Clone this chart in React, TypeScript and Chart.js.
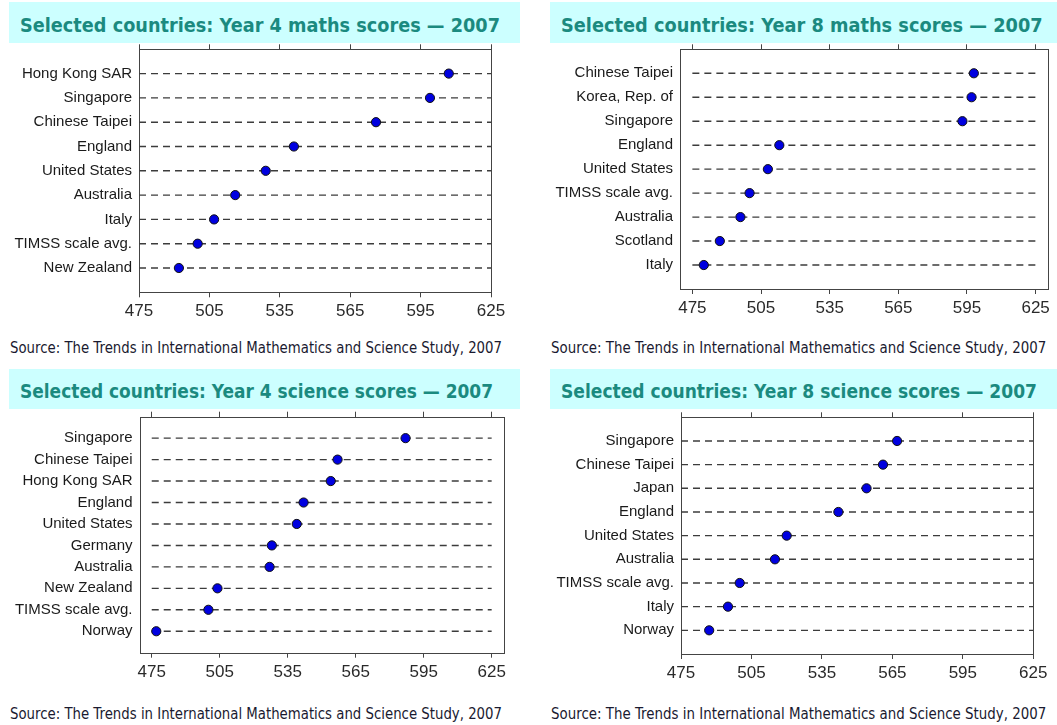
import React, { useEffect, useRef, useMemo } from "react";
import { Chart, registerables } from "chart.js";

Chart.register(...registerables);

// ---------- data ----------
const xTickValues = [475, 505, 535, 565, 595, 625];

const y4MathsCountries = ["Hong Kong SAR", "Singapore", "Chinese Taipei", "England", "United States", "Australia", "Italy", "TIMSS scale avg.", "New Zealand"];
const y4MathsScores = [607, 599, 576, 541, 529, 516, 507, 500, 492];

const y8MathsCountries = ["Chinese Taipei", "Korea, Rep. of", "Singapore", "England", "United States", "TIMSS scale avg.", "Australia", "Scotland", "Italy"];
const y8MathsScores = [598, 597, 593, 513, 508, 500, 496, 487, 480];

const y4ScienceCountries = ["Singapore", "Chinese Taipei", "Hong Kong SAR", "England", "United States", "Germany", "Australia", "New Zealand", "TIMSS scale avg.", "Norway"];
const y4ScienceScores = [587, 557, 554, 542, 539, 528, 527, 504, 500, 477];

const y8ScienceCountries = ["Singapore", "Chinese Taipei", "Japan", "England", "United States", "Australia", "TIMSS scale avg.", "Italy", "Norway"];
const y8ScienceScores = [567, 561, 554, 542, 520, 515, 500, 495, 487];

const panelTitles = [
  "Selected countries: Year 4 maths scores — 2007",
  "Selected countries: Year 8 maths scores — 2007",
  "Selected countries: Year 4 science scores — 2007",
  "Selected countries: Year 8 science scores — 2007",
];
const sourceText = "Source: The Trends in International Mathematics and Science Study, 2007";

// ---------- layout ----------
type Rect = { x: number; y: number; w: number; h: number };
type Box = { l: number; r: number; t: number; b: number };

const panels = [
  {
    countries: y4MathsCountries, scores: y4MathsScores, title: panelTitles[0],
    xMin: 475, xMax: 625,
    banner: { x: 9, y: 2, w: 511, h: 41 },
    titlePos: { x: 20, w: 480, cy: 25.3 },
    sourcePos: { x: 10, w: 492, cy: 348 },
    canvas: { x: 0, y: 40, w: 530, h: 300 },
    box: { l: 139, r: 491, t: 49.3, b: 292.3 },
  },
  {
    countries: y8MathsCountries, scores: y8MathsScores, title: panelTitles[1],
    xMin: 469.6, xMax: 630.4,
    banner: { x: 550, y: 2, w: 507, h: 41 },
    titlePos: { x: 560.7, w: 481.6, cy: 25.3 },
    sourcePos: { x: 550.7, w: 495.3, cy: 348 },
    canvas: { x: 530, y: 40, w: 527, h: 300 },
    box: { l: 680, r: 1048, t: 49.3, b: 289 },
  },
  {
    countries: y4ScienceCountries, scores: y4ScienceScores, title: panelTitles[2],
    xMin: 469.6, xMax: 630.4,
    banner: { x: 9, y: 369, w: 511, h: 40 },
    titlePos: { x: 20, w: 473, cy: 391.7 },
    sourcePos: { x: 10, w: 492, cy: 714 },
    canvas: { x: 0, y: 405, w: 530, h: 300 },
    box: { l: 139.5, r: 503.9, t: 416.7, b: 652.7 },
  },
  {
    countries: y8ScienceCountries, scores: y8ScienceScores, title: panelTitles[3],
    xMin: 475, xMax: 625,
    banner: { x: 550, y: 369, w: 507, h: 40 },
    titlePos: { x: 560.7, w: 476, cy: 391.7 },
    sourcePos: { x: 550.7, w: 495.3, cy: 714 },
    canvas: { x: 530, y: 405, w: 527, h: 300 },
    box: { l: 681, r: 1033.3, t: 417.3, b: 654 },
  },
];

let measureCtx: CanvasRenderingContext2D | null = null;
function measure(text: string, font: string): number {
  if (!measureCtx) measureCtx = document.createElement("canvas").getContext("2d");
  measureCtx!.font = font;
  return measureCtx!.measureText(text).width;
}

function FitText(props: { text: string; x: number; cy: number; w: number; size: number; weight: string; family: string; color: string }) {
  const { text, x, cy, w, size, weight, family, color } = props;
  const lh = Math.round(size * 1.25);
  const font = `${weight} ${size}px ${family}`;
  const scale = useMemo(() => {
    const nat = measure(text, font);
    return nat > 0 ? w / nat : 1;
  }, [text, font, w]);
  return (
    <div
      style={{
        position: "absolute",
        left: x,
        top: cy - lh / 2,
        height: lh,
        lineHeight: `${lh}px`,
        whiteSpace: "nowrap",
        font,
        color,
        transform: `scaleX(${scale})`,
        transformOrigin: "left center",
      }}
    >
      {text}
    </div>
  );
}

function DotChart(props: { countries: string[]; scores: number[]; xMin: number; xMax: number; canvas: Rect; box: Box }) {
  const { countries, scores, xMin, xMax, canvas, box } = props;
  const ref = useRef<HTMLCanvasElement>(null);

  useEffect(() => {
    const yAxisW = 130;
    const xAxisH = 40;
    const topAxisH = 5;
    const pad = {
      left: box.l - canvas.x - yAxisW,
      right: canvas.x + canvas.w - box.r,
      top: box.t - canvas.y - topAxisH,
      bottom: canvas.y + canvas.h - box.b - xAxisH,
    };
    const n = countries.length;

    const guides = countries.map((_c, i) => ({
      type: "line" as const,
      data: [
        { x: xTickValues[0], y: i },
        { x: xTickValues[xTickValues.length - 1], y: i },
      ],
      xAxisID: "x",
      yAxisID: "y",
      borderColor: "#3c3c3c",
      borderWidth: 1.4,
      borderDash: [7, 5],
      pointRadius: 0,
      showLine: true,
      fill: false,
      order: 2,
    }));

    const dots = {
      type: "scatter" as const,
      data: scores.map((s, i) => ({ x: s, y: i })),
      xAxisID: "x",
      yAxisID: "y",
      pointRadius: 4.6,
      pointBackgroundColor: "#0000e0",
      pointBorderColor: "#111111",
      pointBorderWidth: 1,
      order: 0,
    };

    const boxPlugin = {
      id: "plotBox",
      beforeDatasetsDraw(chart: any) {
        const { ctx, chartArea: a } = chart;
        ctx.save();
        ctx.strokeStyle = "#444444";
        ctx.lineWidth = 1;
        const l = Math.round(a.left) + 0.5;
        const t = Math.round(a.top) + 0.5;
        const r = Math.round(a.right) + 0.5;
        const b = Math.round(a.bottom) + 0.5;
        ctx.strokeRect(l, t, r - l, b - t);
        ctx.restore();
      },
    };

    const setXTicks = (scale: any) => {
      scale.ticks = xTickValues.map((v) => ({ value: v }));
    };
    const tickGrid = {
      drawOnChartArea: false,
      drawTicks: true,
      tickLength: 5,
      color: "#444444",
      lineWidth: 1,
    };

    const chart = new Chart(ref.current as HTMLCanvasElement, {
      type: "scatter",
      data: { datasets: [dots, ...guides] as any },
      options: {
        animation: false,
        responsive: false,
        maintainAspectRatio: false,
        events: [],
        layout: { padding: pad },
        plugins: { legend: { display: false }, tooltip: { enabled: false }, title: { display: false } },
        scales: {
          x: {
            type: "linear",
            position: "bottom",
            min: xMin,
            max: xMax,
            bounds: "data",
            afterBuildTicks: setXTicks,
            afterFit: (s: any) => {
              s.height = xAxisH;
              s.paddingLeft = 0;
              s.paddingRight = 0;
            },
            grid: tickGrid,
            border: { display: false },
            ticks: {
              font: { family: "'Liberation Sans', Arial, sans-serif", size: 17 },
              color: "#2a2a2a",
              padding: 4,
              maxRotation: 0,
              autoSkip: false,
            },
          },
          xTop: {
            type: "linear",
            axis: "x",
            position: "top",
            min: xMin,
            max: xMax,
            bounds: "data",
            afterBuildTicks: setXTicks,
            afterFit: (s: any) => {
              s.height = topAxisH;
              s.paddingLeft = 0;
              s.paddingRight = 0;
            },
            grid: tickGrid,
            border: { display: false },
            ticks: { display: false },
          },
          y: {
            type: "linear",
            reverse: true,
            min: -1,
            max: n,
            afterBuildTicks: (s: any) => {
              s.ticks = countries.map((_c, i) => ({ value: i }));
            },
            afterFit: (s: any) => {
              s.width = yAxisW;
              s.paddingTop = 0;
              s.paddingBottom = 0;
            },
            grid: { display: false, drawTicks: false },
            border: { display: false },
            ticks: {
              font: { family: "'Liberation Sans', Arial, sans-serif", size: 15 },
              color: "#1a1a1a",
              padding: 7,
              autoSkip: false,
              callback: (v: any) => (countries[v as number] !== undefined ? countries[v as number] : ""),
            },
          },
        } as any,
      },
      plugins: [boxPlugin],
    });
    return () => chart.destroy();
  }, []);

  return (
    <canvas
      ref={ref}
      width={canvas.w}
      height={canvas.h}
      style={{ position: "absolute", left: canvas.x, top: canvas.y, width: canvas.w, height: canvas.h }}
    />
  );
}

export default function App() {
  return (
    <div
      style={{
        position: "absolute",
        left: 0,
        top: 0,
        width: 1057,
        height: 725,
        background: "#ffffff",
        overflow: "hidden",
      }}
    >
      {panels.map((p, i) => (
        <React.Fragment key={i}>
          <div
            style={{
              position: "absolute",
              left: p.banner.x,
              top: p.banner.y,
              width: p.banner.w,
              height: p.banner.h,
              background: "#ccffff",
            }}
          />
          <FitText
            text={p.title}
            x={p.titlePos.x}
            cy={p.titlePos.cy}
            w={p.titlePos.w}
            size={20}
            weight="bold"
            family="'DejaVu Sans', Verdana, sans-serif"
            color="#1b8a7f"
          />
          <FitText
            text={sourceText}
            x={p.sourcePos.x}
            cy={p.sourcePos.cy}
            w={p.sourcePos.w}
            size={15}
            weight="normal"
            family="'DejaVu Sans', Verdana, sans-serif"
            color="#1a1a30"
          />
          <DotChart
            countries={p.countries}
            scores={p.scores}
            xMin={p.xMin}
            xMax={p.xMax}
            canvas={p.canvas}
            box={p.box}
          />
        </React.Fragment>
      ))}
    </div>
  );
}
